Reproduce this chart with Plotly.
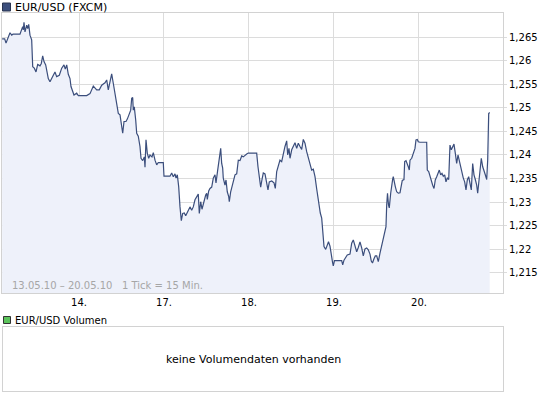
import plotly.graph_objects as go

# Trading hours since 13.05.10 00:00 (weekend removed), 15-min ticks
hours = [2.3, 3.02, 3.39, 3.81, 4.52, 5.00, 5.36, 7.34, 7.62, 8.10, 8.27, 8.47, 8.75, 9.23, 9.52, 9.80,
         10.16, 10.64, 10.93, 11.38, 11.86, 12.34, 12.99, 13.36, 13.75, 14.12, 14.60, 15.33, 15.81, 16.29,
         16.74, 17.22, 17.70, 18.44, 19.12, 19.76, 20.13, 20.53, 20.98, 21.46, 21.74, 22.22, 22.59, 23.35,
         23.80, 26.17, 27.11, 28.04, 29.00, 29.73, 30.41, 31.34, 31.82, 32.27, 32.75, 33.23, 33.68, 34.16,
         34.64, 35.10, 35.58, 36.06, 36.34, 36.71, 37.27, 37.64, 38.20, 38.60, 38.88, 39.16, 39.33, 39.61,
         40.01, 40.29, 40.74, 41.22, 41.51, 41.99, 42.44, 42.64, 42.92, 43.28, 43.68, 44.05, 44.61, 44.98,
         45.46, 45.94, 46.39, 47.80, 48.00, 49.69, 50.17, 50.63, 51.11, 51.39, 51.76, 52.15, 52.52, 52.89,
         53.28, 53.73, 54.13, 54.86, 55.34, 55.82, 56.27, 56.75, 57.23, 57.68, 57.97, 58.36, 58.73, 59.10,
         59.38, 59.77, 60.06, 60.23, 60.62, 60.99, 61.47, 61.92, 62.40, 62.68, 63.16, 63.61, 64.01, 64.29,
         64.57, 64.74, 65.22, 65.51, 65.87, 66.27, 66.44, 66.83, 67.20, 67.57, 68.05, 68.53, 68.98, 69.46,
         69.94, 70.39, 70.87, 71.35, 71.80, 74.17, 74.54, 74.91, 75.30, 75.67, 76.04, 76.52, 77.00, 77.36,
         77.73, 78.41, 79.06, 79.43, 79.82, 80.27, 80.75, 81.23, 81.68, 82.16, 82.64, 82.93, 83.29, 83.58,
         84.06, 84.51, 84.99, 85.47, 85.92, 86.40, 86.88, 87.33, 87.81, 88.29, 88.74, 89.22, 89.70, 90.16,
         90.64, 91.12, 91.57, 92.13, 92.53, 92.89, 93.18, 93.66, 94.11, 94.45, 94.87, 95.24, 95.58, 95.80,
         96.14, 98.17, 98.46, 98.82, 99.25, 99.75, 100.52, 101.00, 101.45, 101.93, 102.41, 102.86, 103.34,
         103.82, 104.27, 104.75, 105.23, 105.68, 106.16, 106.53, 106.87, 107.29, 107.66, 108.06, 108.51,
         108.99, 109.47, 109.92, 110.40, 110.68, 110.88, 111.11, 111.39, 111.61, 112.01, 112.29, 112.57,
         112.74, 113.03, 113.31, 113.70, 114.16, 114.64, 114.92, 115.28, 115.76, 115.96, 116.33, 116.70,
         116.98, 117.26, 117.46, 117.94, 118.39, 118.87, 119.15, 119.52, 119.80, 120.28, 122.17, 122.34,
         122.74, 123.11, 123.47, 123.87, 124.24, 124.60, 125.00, 125.36, 125.73, 126.13, 126.49, 126.86,
         127.26, 127.62, 127.99, 128.39, 128.75, 129.12, 129.52, 129.88, 130.25, 130.64, 131.01, 131.38,
         131.77, 132.14, 132.51, 132.90, 133.27, 133.64, 134.03, 134.40, 134.77, 135.16, 135.53, 135.90,
         136.29, 136.57, 136.94, 137.31, 137.59, 137.99, 138.35, 138.72, 139.12, 139.40, 139.68, 139.96]

prices = [1.2646, 1.2646, 1.2637, 1.2646, 1.2659, 1.2654, 1.2656, 1.2656, 1.2661, 1.2672, 1.2665, 1.2681,
          1.2661, 1.2675, 1.2668, 1.2677, 1.2654, 1.2644, 1.2587, 1.2584, 1.2576, 1.2592, 1.2589, 1.2594,
          1.2610, 1.2598, 1.2591, 1.2562, 1.2555, 1.2562, 1.2569, 1.2576, 1.2566, 1.2569, 1.2584, 1.2591,
          1.2582, 1.2591, 1.2571, 1.2562, 1.2545, 1.2534, 1.2527, 1.2531, 1.2526, 1.2526, 1.2530, 1.2546,
          1.2538, 1.2538, 1.2548, 1.2553, 1.2559, 1.2538, 1.2557, 1.2572, 1.2552, 1.2531, 1.2510, 1.2488,
          1.2485, 1.2453, 1.2446, 1.2471, 1.2471, 1.2476, 1.2485, 1.2495, 1.2520, 1.2522, 1.2495, 1.2502,
          1.2474, 1.2446, 1.2440, 1.2418, 1.2393, 1.2388, 1.2396, 1.2374, 1.2432, 1.2404, 1.2393, 1.2400,
          1.2396, 1.2405, 1.2389, 1.2379, 1.2384, 1.2384, 1.2355, 1.2355, 1.2362, 1.2354, 1.2360, 1.2351,
          1.2358, 1.2333, 1.2290, 1.2261, 1.2276, 1.2277, 1.2271, 1.2283, 1.2290, 1.2283, 1.2290, 1.2305,
          1.2313, 1.2317, 1.2276, 1.2301, 1.2285, 1.2298, 1.2306, 1.2315, 1.2319, 1.2306, 1.2324, 1.2329,
          1.2332, 1.2351, 1.2358, 1.2341, 1.2368, 1.2396, 1.2414, 1.2382, 1.2372, 1.2351, 1.2336, 1.2347,
          1.2322, 1.2312, 1.2301, 1.2322, 1.2334, 1.2347, 1.2358, 1.2360, 1.2389, 1.2388, 1.2398, 1.2396,
          1.2400, 1.2402, 1.2404, 1.2404, 1.2375, 1.2354, 1.2332, 1.2348, 1.2362, 1.2360, 1.2336, 1.2326,
          1.2343, 1.2345, 1.2341, 1.2329, 1.2365, 1.2375, 1.2389, 1.2386, 1.2404, 1.2418, 1.2430, 1.2400,
          1.2414, 1.2393, 1.2411, 1.2418, 1.2426, 1.2414, 1.2425, 1.2418, 1.2412, 1.2433, 1.2425, 1.2407,
          1.2393, 1.2379, 1.2368, 1.2370, 1.2354, 1.2328, 1.2302, 1.2277, 1.2266, 1.2230, 1.2206, 1.2200,
          1.2209, 1.2216, 1.2207, 1.2184, 1.2173, 1.2165, 1.2176, 1.2176, 1.2167, 1.2177, 1.2183, 1.2188,
          1.2190, 1.2213, 1.2220, 1.2204, 1.2195, 1.2204, 1.2216, 1.2203, 1.2186, 1.2201, 1.2203, 1.2199,
          1.2190, 1.2175, 1.2171, 1.2180, 1.2186, 1.2186, 1.2174, 1.2192, 1.2209, 1.2218, 1.2235, 1.2248,
          1.2294, 1.2319, 1.2294, 1.2288, 1.2319, 1.2339, 1.2349, 1.2354, 1.2339, 1.2333, 1.2322, 1.2319,
          1.2320, 1.2333, 1.2346, 1.2348, 1.2386, 1.2388, 1.2377, 1.2375, 1.2368, 1.2389, 1.2393, 1.2404,
          1.2414, 1.2432, 1.2433, 1.2428, 1.2427, 1.2427, 1.2368, 1.2365, 1.2354, 1.2343, 1.2336, 1.2329,
          1.2347, 1.2354, 1.2361, 1.2368, 1.2358, 1.2361, 1.2355, 1.2358, 1.2343, 1.2351, 1.2348, 1.2421,
          1.2411, 1.2416, 1.2423, 1.2404, 1.2382, 1.2400, 1.2386, 1.2379, 1.2365, 1.2351, 1.2343, 1.2326,
          1.2347, 1.2354, 1.2340, 1.2326, 1.2382, 1.2358, 1.2348, 1.2336, 1.2319, 1.2347, 1.2379, 1.2393,
          1.2375, 1.2368, 1.2358, 1.2348, 1.2390, 1.2488, 1.2490]

x_tick_vals = [24, 48, 72, 96, 120]
x_tick_labels = ["14.", "17.", "18.", "19.", "20."]
y_tick_vals = [1.215, 1.22, 1.225, 1.23, 1.235, 1.24, 1.245, 1.25, 1.255, 1.26, 1.265]
y_tick_labels = ["1,215", "1,22", "1,225", "1,23", "1,235", "1,24", "1,245", "1,25", "1,255", "1,26", "1,265"]

title_text = "EUR/USD (FXCM)"
volume_title = "EUR/USD Volumen"
volume_note = "keine Volumendaten vorhanden"
range_note = "13.05.10 \u2013 20.05.10   1 Tick = 15 Min."

LINE = "rgb(59,78,124)"
FILL = "rgb(238,241,250)"
GRID = "#dcdcdc"
BORDER = "#d2d2d2"
FONT = "DejaVu Sans"

fig = go.Figure()
fig.add_trace(go.Scatter(
    x=hours, y=prices, mode="lines",
    line=dict(color=LINE, width=1.2),
    fill="tozeroy", fillcolor=FILL,
    hoverinfo="skip", showlegend=False,
    xaxis="x", yaxis="y",
))
# empty trace for the volume panel
fig.add_trace(go.Scatter(x=[], y=[], xaxis="x2", yaxis="y2", showlegend=False))

W, H = 545, 395
ml, mr, mt, mb = 2, 42, 13, 4
pw, ph = W - ml - mr, H - mt - mb


def px(x):
    return (x - ml) / pw


def py(y):
    return (H - mb - y) / ph


fig.update_layout(
    width=W, height=H,
    margin=dict(l=ml, r=mr, t=mt, b=mb, autoexpand=False),
    paper_bgcolor="white", plot_bgcolor="white",
    font=dict(family=FONT, size=10, color="black"),
    xaxis=dict(
        domain=[0, 1], anchor="y",
        range=[2.26, 143.72],
        tickvals=x_tick_vals, ticktext=x_tick_labels,
        showgrid=True, gridcolor=GRID, gridwidth=1,
        showline=True, mirror=True, linecolor=BORDER, linewidth=1,
        ticks="", zeroline=False,
        tickfont=dict(family=FONT, size=10, color="black"),
    ),
    yaxis=dict(
        domain=[py(293), 1], anchor="x", side="right",
        range=[1.21075, 1.27009],
        tickvals=y_tick_vals, ticktext=y_tick_labels,
        showgrid=True, gridcolor=GRID, gridwidth=1,
        showline=True, mirror=True, linecolor=BORDER, linewidth=1,
        ticks="outside", ticklen=3, tickcolor=GRID, zeroline=False,
        tickfont=dict(family=FONT, size=10, color="black"),
    ),
    xaxis2=dict(
        domain=[px(3), 1], anchor="y2", range=[0, 1],
        showgrid=False, showticklabels=False, ticks="", zeroline=False,
        showline=True, mirror=True, linecolor=BORDER, linewidth=1,
    ),
    yaxis2=dict(
        domain=[0, py(327)], anchor="x2", range=[0, 1],
        showgrid=False, showticklabels=False, ticks="", zeroline=False,
        showline=True, mirror=True, linecolor=BORDER, linewidth=1,
    ),
    shapes=[
        dict(type="rect", xref="paper", yref="paper",
             x0=px(2.5), x1=px(10.5), y0=py(11), y1=py(3),
             fillcolor=LINE, line=dict(color="#2a3550", width=1)),
        dict(type="rect", xref="paper", yref="paper",
             x0=px(3.5), x1=px(10.5), y0=py(323.5), y1=py(316.5),
             fillcolor="rgb(92,196,92)", line=dict(color="#333333", width=1)),
    ],
    annotations=[
        dict(text=title_text, xref="paper", yref="paper", x=px(13), y=py(7),
             xanchor="left", yanchor="middle", showarrow=False,
             font=dict(family=FONT, size=11, color="black")),
        dict(text=volume_title, xref="paper", yref="paper", x=px(13), y=py(320),
             xanchor="left", yanchor="middle", showarrow=False,
             font=dict(family=FONT, size=10, color="black")),
        dict(text=volume_note, xref="x2 domain", yref="y2 domain", x=0.5, y=0.5,
             xanchor="center", yanchor="middle", showarrow=False,
             font=dict(family=FONT, size=11, color="black")),
        dict(text=range_note, xref="paper", yref="paper", x=px(10), y=py(285.5),
             xanchor="left", yanchor="middle", showarrow=False,
             font=dict(family=FONT, size=10, color="#a6a6a6")),
    ],
)

fig.write_html("out.html", config={"displayModeBar": False},
               post_script="document.body.style.margin='0';")
